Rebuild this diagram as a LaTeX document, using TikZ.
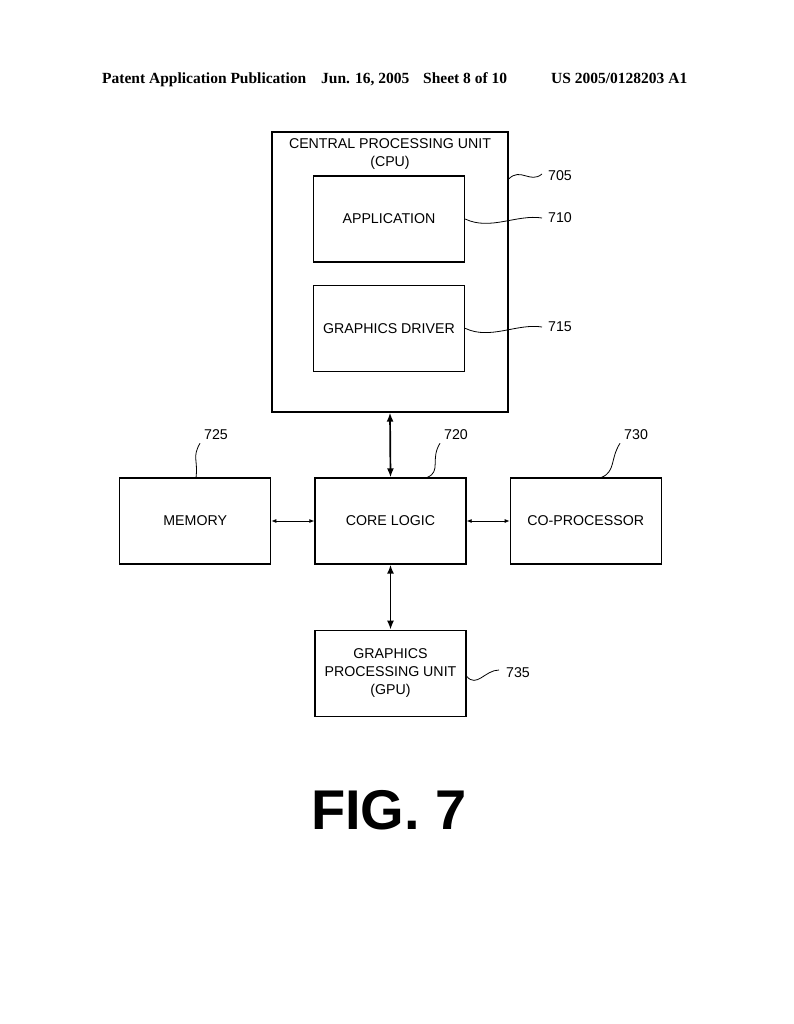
\documentclass[tikz,border=0pt]{standalone}
\usepackage{fontspec}
\setmainfont{Liberation Sans}
\newfontfamily\headfont{Liberation Serif}
\usetikzlibrary{positioning,arrows.meta}

\begin{document}
\begin{tikzpicture}[x=1pt,y=-1pt,
    blk/.style={draw, line width=1.3pt, inner sep=0pt, minimum width=151pt,
      minimum height=86pt, align=center, font=\fontsize{14.2}{18}\selectfont},
    refnum/.style={inner sep=1pt, font=\fontsize{14.2}{18}\selectfont},
    hdr/.style={anchor=base west, inner sep=0pt, font=\headfont\bfseries\fontsize{15.5}{18}\selectfont},
    squig/.style={line width=0.8pt},
    bus/.style={line width=1.7pt, {Latex[length=9pt,width=7pt]}-{Latex[length=9pt,width=7pt]}},
    link/.style={line width=0.8pt, {Latex[length=5pt,width=4pt]}-{Latex[length=5pt,width=4pt]}}]
  \useasboundingbox[fill=white] (0,0) rectangle (794,1024);

  % page header
  \node[hdr] (hdrpub) at (102,84) {Patent Application Publication};
  \node[hdr] (hdrdate) at (321,84) {Jun. 16, 2005};
  \node[hdr] (hdrsheet) at (423,84) {Sheet 8 of 10};
  \node[hdr] (hdrnum) at (551,84) {US 2005/0128203 A1};

  % cpu with its two inner blocks
  \node[draw, line width=1.3pt, inner sep=0pt, minimum width=236pt, minimum height=280pt] (cpu) at (390,272) {};
  \node[align=center, inner sep=0pt, font=\fontsize{14.2}{18}\selectfont] (cputitle) at (390,154) {CENTRAL PROCESSING UNIT\\(CPU)};
  \node[blk] (app) at (389,219) {APPLICATION};
  \node[blk, below=22pt of app] (drv) {GRAPHICS DRIVER};

  % middle row and gpu
  \node[blk] (core) at (390.5,521) {CORE LOGIC};
  \node[blk, left=43pt of core] (mem) {MEMORY};
  \node[blk, right=43pt of core] (cop) {CO-PROCESSOR};
  \node[blk, below=65pt of core] (gpu) {GRAPHICS\\PROCESSING UNIT\\(GPU)};

  \draw[bus] (cpu.south) -- (core.north);
  \draw[bus] (core.south) -- (gpu.north);
  \draw[link] (mem.east) -- (core.west);
  \draw[link] (core.east) -- (cop.west);

  % reference numerals
  \node[refnum, anchor=west] (n705) at (547,176) {705};
  \node[refnum, anchor=west] (n710) at (547,218) {710};
  \node[refnum, anchor=west] (n715) at (547,327) {715};
  \node[refnum, anchor=west] (n725) at (203,435) {725};
  \node[refnum, anchor=west] (n720) at (443,435) {720};
  \node[refnum, anchor=west] (n730) at (623,435) {730};
  \node[refnum, anchor=west] (n735) at (505,673) {735};

  \draw[squig] ([yshift=93pt]cpu.east) .. controls +(12,-12) and +(-12,10) .. ([xshift=-5pt,yshift=2pt]n705.west);
  \draw[squig] (app.east) .. controls +(25,12) and +(-25,-4) .. ([xshift=-5pt]n710.west);
  \draw[squig] (drv.east) .. controls +(25,12) and +(-25,-4) .. ([xshift=-5pt]n715.west);
  \draw[squig] ([yshift=-3pt]gpu.east) .. controls +(10,12) and +(-14,0) .. ([xshift=-6pt,yshift=3pt]n735.west);
  \draw[squig] ([xshift=77pt]mem.north west) .. controls +(2,-18) and +(-8,14) .. ([xshift=-3pt,yshift=-2pt]n725.south west);
  \draw[squig] ([xshift=113pt]core.north west) .. controls +(14,-6) and +(-10,16) .. ([xshift=-3pt,yshift=-2pt]n720.south west);
  \draw[squig] ([xshift=92pt]cop.north west) .. controls +(14,-6) and +(-10,16) .. ([xshift=-3pt,yshift=-2pt]n730.south west);

  % figure caption
  \node[inner sep=0pt, font=\bfseries\fontsize{56}{60}\selectfont] (figcap) at (389,810) {FIG. 7};
\end{tikzpicture}
\end{document}
